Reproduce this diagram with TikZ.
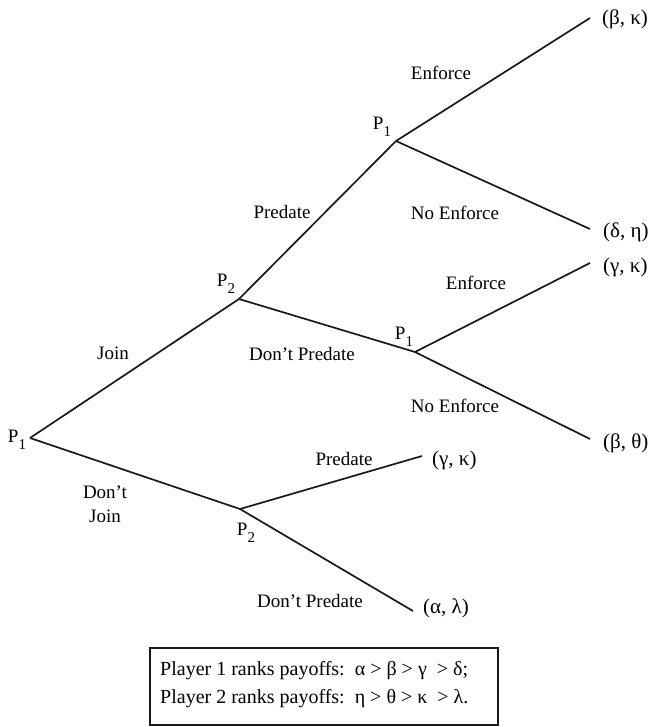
\documentclass[tikz,border=0pt]{standalone}
\usepackage{fontspec}
\setmainfont{Liberation Serif}
\newcommand{\pl}[1]{P\raisebox{-0.38em}{\fontsize{15}{15}\selectfont #1}}
\begin{document}
\begin{tikzpicture}[x=1pt,y=-1pt,
  every node/.style={font=\fontsize{19}{21}\selectfont, inner sep=0pt},
  branch/.style={line width=1.7pt, black!90},
  lbl/.style={anchor=center},
  payoff/.style={anchor=west, font=\fontsize{21}{23}\selectfont},
  keytext/.style={anchor=west, font=\fontsize{20}{22}\selectfont}]
\useasboundingbox (0,0) rectangle (649,727);
% decision points
\coordinate (r) at (30,438);
\coordinate (a) at (239,299);
\coordinate (b) at (396,141);
\coordinate (c) at (415,352);
\coordinate (d) at (240,509);
% terminal points
\coordinate (t1) at (590,18);
\coordinate (t2) at (590,229);
\coordinate (t3) at (590,263);
\coordinate (t4) at (590,439);
\coordinate (t5) at (422,456);
\coordinate (t6) at (413,611);
% branches
\draw[branch] (r) -- (a);
\draw[branch] (a) -- (b);
\draw[branch] (b) -- (t1);
\draw[branch] (b) -- (t2);
\draw[branch] (a) -- (c);
\draw[branch] (c) -- (t3);
\draw[branch] (c) -- (t4);
\draw[branch] (r) -- (d);
\draw[branch] (d) -- (t5);
\draw[branch] (d) -- (t6);
% player labels
\node[lbl] (pr) at (17,440) {\pl{1}};
\node[lbl] (pa) at (226,284) {\pl{2}};
\node[lbl] (pb) at (382,127) {\pl{1}};
\node[lbl] (pc) at (404,337) {\pl{1}};
\node[lbl] (pd) at (246,533) {\pl{2}};
% action labels
\node[lbl] (l1) at (441,73) {Enforce};
\node[lbl] (l2) at (282,212) {Predate};
\node[lbl] (l3) at (455,213) {No Enforce};
\node[lbl] (l4) at (476,283) {Enforce};
\node[lbl] (l5) at (113,353) {Join};
\node[lbl] (l6) at (302,354) {Don't Predate};
\node[lbl] (l7) at (455,406) {No Enforce};
\node[lbl] (l8) at (344,459) {Predate};
\node[lbl, align=center, font=\fontsize{19}{24}\selectfont] (l9) at (105,504) {Don't\\Join};
\node[lbl] (l10) at (310,601) {Don't Predate};
% payoffs
\node[payoff] (p1) at (602,19) {(β, κ)};
\node[payoff] (p2) at (603,232) {(δ, η)};
\node[payoff] (p3) at (603,267) {(γ, κ)};
\node[payoff] (p4) at (603,443) {(β, θ)};
\node[payoff] (p5) at (432,460) {(γ, κ)};
\node[payoff] (p6) at (423,608) {(α, λ)};
% legend
\draw[line width=1.3pt, black!90] (150,648) rectangle (498,725);
\node[keytext] (k1) at (160,671) {Player 1 ranks payoffs:\ \ α > β > γ \ > δ;};
\node[keytext] (k2) at (160,699) {Player 2 ranks payoffs:\ \ η > θ > κ \ > λ.};
\end{tikzpicture}
\end{document}
